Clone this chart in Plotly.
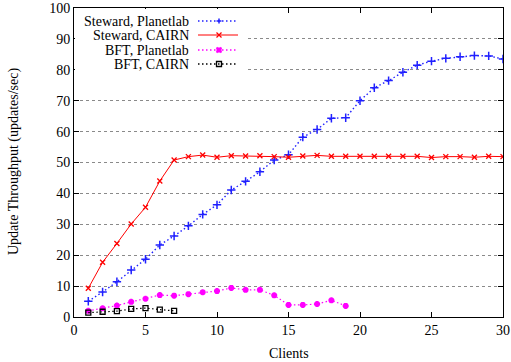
import plotly.graph_objects as go

clients = list(range(1, 31))
steward_planetlab = [5.1, 8.1, 11.4, 15.2, 18.7, 23.3, 26.2, 29.5, 33.2, 36.3,
                     41.1, 43.9, 47.0, 50.8, 52.5, 58.2, 60.7, 64.3, 64.5, 70.0,
                     74.2, 76.5, 79.2, 81.5, 82.8, 83.7, 84.2, 84.6, 84.5, 83.5]
steward_cairn = [9.3, 17.7, 23.8, 30.1, 35.5, 44.0, 50.8, 51.9, 52.4, 51.7,
                 52.2, 52.1, 52.2, 51.9, 51.7, 52.1, 52.3, 52.0, 52.0, 52.0,
                 52.0, 52.0, 52.0, 52.0, 51.6, 51.9, 51.9, 51.7, 52.0, 51.9]
bft_clients = list(range(1, 20))
bft_planetlab = [2.0, 2.8, 3.7, 4.9, 5.9, 7.1, 6.9, 7.4, 8.0, 8.4,
                 9.4, 8.8, 8.8, 7.0, 3.9, 3.9, 4.2, 5.4, 3.6]
bft_cairn_clients = list(range(1, 8))
bft_cairn = [1.4, 1.7, 1.9, 2.6, 2.9, 2.4, 2.0]

names = ["Steward, Planetlab", "Steward, CAIRN", "BFT, Planetlab", "BFT, CAIRN"]
colors = ["#2020ff", "#ff0000", "#ff00ff", "#000000"]

FONT = "Liberation Serif"
FS = 14
W, H = 511, 362
ML, MR, MT, MB = 74, 8, 8, 45
PW, PH = W - ML - MR, H - MT - MB
DOT = "1.5px,2.5px"

def px(x):
    return (x - ML) / PW

def py(y):
    return (H - MB - y) / PH

fig = go.Figure()
fig.add_trace(go.Scatter(x=clients, y=steward_planetlab, mode="lines+markers", name=names[0],
                         line=dict(color=colors[0], width=1.4, dash=DOT),
                         marker=dict(symbol="cross-thin-open", size=6, line=dict(color=colors[0], width=1.5))))
fig.add_trace(go.Scatter(x=clients, y=steward_cairn, mode="lines+markers", name=names[1],
                         line=dict(color=colors[1], width=1),
                         marker=dict(symbol="x-thin-open", size=5, line=dict(color=colors[1], width=1.3))))
fig.add_trace(go.Scatter(x=bft_clients, y=bft_planetlab, mode="lines+markers", name=names[2],
                         line=dict(color=colors[2], width=1.2, dash=DOT),
                         marker=dict(symbol="asterisk-open", size=5, line=dict(color=colors[2], width=2))))
fig.add_trace(go.Scatter(x=bft_cairn_clients, y=bft_cairn, mode="lines+markers", name=names[3],
                         line=dict(color=colors[3], width=1.2, dash=DOT),
                         marker=dict(symbol="square-open", size=5, line=dict(color=colors[3], width=1.3))))

shapes = []
shapes.append(dict(type="rect", xref="paper", yref="paper", x0=px(75), x1=px(246), y0=py(72), y1=py(9),
                   fillcolor="white", line=dict(width=0), layer="above"))
annotations = []
rows = [21, 35, 50, 64]
for i, (nm, c, ry) in enumerate(zip(names, colors, rows)):
    annotations.append(dict(text=nm, xref="paper", yref="paper", x=px(191), y=py(ry),
                            xanchor="right", yanchor="middle", showarrow=False, height=14,
                            font=dict(family=FONT, size=FS, color="black")))
    dash = "solid" if i == 1 else DOT
    shapes.append(dict(type="line", xref="paper", yref="paper", x0=px(198), x1=px(238), y0=py(ry), y1=py(ry),
                       line=dict(color=c, width=1 if i == 1 else 1.3, dash=dash), layer="above"))
    cx, cy, s = 219, ry, 2.5
    if i == 0:
        shapes.append(dict(type="line", xref="paper", yref="paper", x0=px(cx - s), x1=px(cx + s), y0=py(cy), y1=py(cy),
                           line=dict(color=c, width=1.5), layer="above"))
        shapes.append(dict(type="line", xref="paper", yref="paper", x0=px(cx), x1=px(cx), y0=py(cy - s), y1=py(cy + s),
                           line=dict(color=c, width=1.5), layer="above"))
    elif i == 1:
        shapes.append(dict(type="line", xref="paper", yref="paper", x0=px(cx - s), x1=px(cx + s), y0=py(cy - s), y1=py(cy + s),
                           line=dict(color=c, width=1.3), layer="above"))
        shapes.append(dict(type="line", xref="paper", yref="paper", x0=px(cx - s), x1=px(cx + s), y0=py(cy + s), y1=py(cy - s),
                           line=dict(color=c, width=1.3), layer="above"))
    elif i == 2:
        for (a, b, c2, d) in [(-s, 0, s, 0), (0, -s, 0, s), (-s, -s, s, s), (-s, s, s, -s)]:
            shapes.append(dict(type="line", xref="paper", yref="paper", x0=px(cx + a), x1=px(cx + c2),
                               y0=py(cy + b), y1=py(cy + d), line=dict(color=c, width=2), layer="above"))
    else:
        shapes.append(dict(type="rect", xref="paper", yref="paper", x0=px(cx - s), x1=px(cx + s), y0=py(cy + s), y1=py(cy - s),
                           line=dict(color=c, width=1.3), fillcolor="rgba(0,0,0,0)", layer="above"))

# axis titles
annotations.append(dict(text="Clients", xref="paper", yref="paper", x=0.5, y=py(353),
                        xanchor="center", yanchor="middle", showarrow=False,
                        font=dict(family=FONT, size=FS, color="black")))
annotations.append(dict(text="Update Throughput (updates/sec)", xref="paper", yref="paper", x=px(14), y=py(162),
                        xanchor="center", yanchor="middle", showarrow=False, textangle=-90,
                        font=dict(family=FONT, size=FS, color="black")))

axis_common = dict(showline=True, linecolor="black", linewidth=1, mirror="ticks",
                   ticks="inside", ticklen=5, tickcolor="black", zeroline=False, automargin=False,
                   tickfont=dict(family=FONT, size=FS, color="black"))

fig.update_layout(
    width=W, height=H, autosize=False,
    margin=dict(l=ML, r=MR, t=MT, b=MB),
    paper_bgcolor="white", plot_bgcolor="white",
    showlegend=False,
    font=dict(family=FONT, size=FS, color="black"),
    xaxis=dict(range=[0, 30], dtick=5, showgrid=False, **axis_common),
    yaxis=dict(range=[0, 100], dtick=10, showgrid=True, gridcolor="#8a8a8a", gridwidth=1, griddash="dot",
               **axis_common),
    shapes=shapes,
    annotations=annotations,
)

fig.write_html("out.html", config={"displayModeBar": False},
               post_script="document.body.style.margin='0';document.body.style.overflow='hidden';")
